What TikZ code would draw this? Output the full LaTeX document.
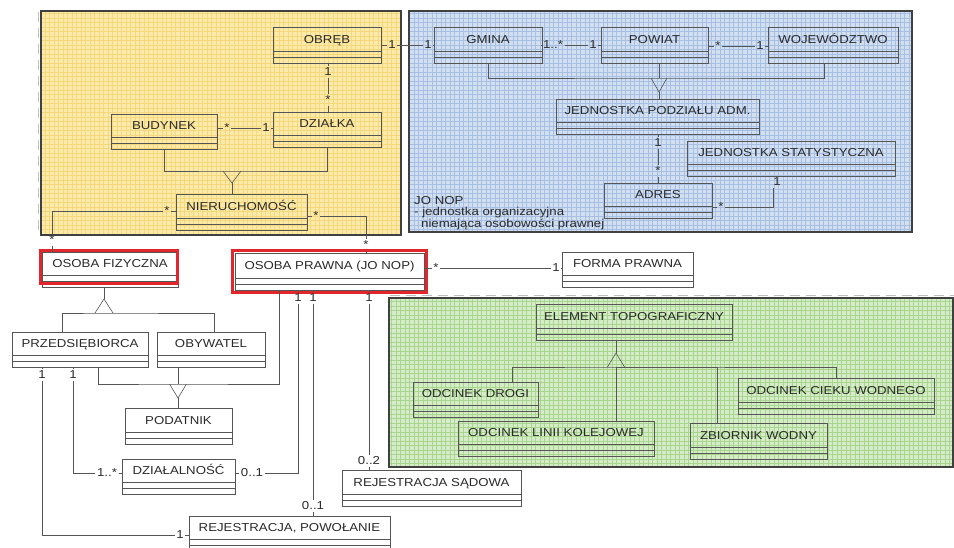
\documentclass[tikz,border=0pt]{standalone}
\usepackage{fontspec}
\setmainfont{Liberation Sans}[FakeStretch=1.15]
\usetikzlibrary{fit}

\definecolor{txt}{HTML}{2A2A2A}
\definecolor{edge}{HTML}{555555}
\definecolor{yelbg}{HTML}{FCEAAA}
\definecolor{yelln}{HTML}{F6D87C}
\definecolor{blubg}{HTML}{D2DFF1}
\definecolor{bluln}{HTML}{A6BFE2}
\definecolor{grnbg}{HTML}{D6ECC8}
\definecolor{grnln}{HTML}{A8D68E}
\definecolor{hilite}{HTML}{E3262B}

\tikzset{
  clsbox/.style={draw=edge, line width=0.7pt, inner sep=0pt},
  clsline/.style={draw=edge, line width=0.6pt},
  clstitle/.style={text=txt, inner sep=0pt, anchor=base, font=\fontsize{11.5}{13}\selectfont},
  mult/.style={text=txt, inner sep=1.5pt, font=\fontsize{11.5}{13}\selectfont},
  conn/.style={draw=edge, line width=0.6pt},
  note/.style={text=txt, inner sep=0pt, align=left, font=\fontsize{11.5}{11.5}\selectfont},
  hilitebox/.style={draw=hilite, line width=3pt},
  panelframe/.style={draw=black!75, line width=1.3pt},
  guide/.style={draw=black!25, line width=0.8pt, dash pattern=on 10pt off 6pt},
}

% UML class: name, x1, y1, x2, y2, title
\newcommand\umlclass[6]{%
  \node[clsbox, fit={(#2,#3) (#4,#5)}] (#1) {};
  \node[clstitle] (#1-t) at ({(#2+#4)/2},{(#3+#5-12)/2+4.2}) {#6};
  \draw[clsline] ([yshift=12pt]#1.south west) -- ([yshift=12pt]#1.south east);
  \draw[clsline] ([yshift=6pt]#1.south west) -- ([yshift=6pt]#1.south east);
}

% coloured grid panel: x1, y1, x2, y2, background, grid colour
\newcommand\gridpanel[6]{%
  \fill[#5] (#1,#2) rectangle (#3,#4);
  \begin{scope}
    \clip (#1,#2) rectangle (#3,#4);
    \draw[#6, line width=0.8pt, step=4.5pt] (#1,#4) grid (#3,#2);
  \end{scope}
  \draw[panelframe] (#1,#2) rectangle (#3,#4);
}

\begin{document}
\begin{tikzpicture}[x=1pt, y=-1pt]
\useasboundingbox (0,0) rectangle (954,547);
\fill[white] (0,0) rectangle (954,547);

% panels
\draw[guide] (38,12) -- (38,232);
\draw[guide] (390,295) -- (954,295);
\gridpanel{41}{11}{401}{235}{yelbg}{yelln}
\gridpanel{409}{11}{912}{232}{blubg}{bluln}
\gridpanel{389}{298}{953}{467}{grnbg}{grnln}

% classes
\umlclass{obreb}{273}{27}{381}{63}{OBRĘB}
\umlclass{dzialka}{273}{112}{381}{147}{DZIAŁKA}
\umlclass{budynek}{111}{114}{217}{149}{BUDYNEK}
\umlclass{nier}{176}{194}{307}{230}{NIERUCHOMOŚĆ}
\umlclass{gmina}{434}{27}{542}{63}{GMINA}
\umlclass{powiat}{601}{27}{708}{63}{POWIAT}
\umlclass{woj}{768}{27}{898}{63}{WOJEWÓDZTWO}
\umlclass{jpa}{556}{99}{759}{134}{JEDNOSTKA PODZIAŁU ADM.}
\umlclass{js}{687}{141}{895}{176}{JEDNOSTKA STATYSTYCZNA}
\umlclass{adres}{604}{183}{712}{218}{ADRES}
\umlclass{of}{42}{252}{178}{287}{OSOBA FIZYCZNA}
\umlclass{op}{235}{253}{424}{290}{OSOBA PRAWNA (JO NOP)}
\umlclass{forma}{562}{252}{693}{287}{FORMA PRAWNA}
\umlclass{prz}{12}{332}{148}{367}{PRZEDSIĘBIORCA}
\umlclass{oby}{157}{332}{265}{367}{OBYWATEL}
\umlclass{pod}{125}{408}{232}{444}{PODATNIK}
\umlclass{dzial}{122}{459}{235}{494}{DZIAŁALNOŚĆ}
\umlclass{rejpow}{189}{516}{390}{551}{REJESTRACJA, POWOŁANIE}
\umlclass{rejsad}{342}{470}{521}{506}{REJESTRACJA SĄDOWA}
\umlclass{et}{536}{304}{732}{340}{ELEMENT TOPOGRAFICZNY}
\umlclass{drogi}{413}{382}{538}{417}{ODCINEK DROGI}
\umlclass{linii}{458}{421}{654}{456}{ODCINEK LINII KOLEJOWEJ}
\umlclass{cieku}{738}{378}{934}{414}{ODCINEK CIEKU WODNEGO}
\umlclass{zbior}{690}{423}{827}{459}{ZBIORNIK WODNY}

% highlighted classes
\draw[hilitebox] ([xshift=-1pt,yshift=1pt]of.north west) rectangle ([xshift=-1pt,yshift=4pt]of.south east);
\draw[hilitebox] ([xshift=-2pt,yshift=2pt]op.north west) rectangle ([xshift=2pt,yshift=-2pt]op.south east);

% note
\node[note, anchor=north west] (jonop) at (414,196)
  {JO NOP\\- jednostka organizacyjna\\\hspace*{7pt}niemająca osobowości prawnej};

% --- associations, land parcels
\node[mult] (m1) at (328,72) {1};
\node[mult] (m2) at (328,100) {*};
\draw[conn] (obreb.south -| m1) -- (m1) -- (m2) -- (dzialka.north -| m2);

\node[mult] (m3) at (227,128) {*};
\node[mult] (m4) at (266,128) {1};
\draw[conn] (budynek.east |- m3) -- (m3) -- (m4) -- (dzialka.west |- m4);

\coordinate (ybus) at (232,171);
\coordinate (ya) at (232,183);
\draw[conn] (budynek.south) |- (ybus) -| (dzialka.south);
\draw[conn] ([xshift=-9pt]ybus) -- (ya) -- ([xshift=9pt]ybus);
\draw[conn] (ya) -- (nier.north -| ya);

\node[mult] (m5) at (167,211) {*};
\node[mult] (m6) at (52,240) {*};
\draw[conn] (nier.west |- m5) -- (m5) -- (m5 -| m6) -- (m6) -- (of.north -| m6);

\node[mult] (m7) at (316,216) {*};
\node[mult] (m8) at (366,245) {*};
\draw[conn] (nier.east |- m7) -- (m7) -- (m7 -| m8) -- (m8) -- (op.north -| m8);

% --- administrative units
\node[mult] (m9) at (392,45) {1};
\node[mult] (m10) at (428,45) {1};
\draw[conn] (obreb.east |- m9) -- (m9) -- (m10) -- (gmina.west |- m10);

\node[mult] (m11) at (553,45) {1..*};
\node[mult] (m12) at (593,45) {1};
\draw[conn] (gmina.east |- m11) -- (m11) -- (m12) -- (powiat.west |- m12);

\node[mult] (m13) at (718,46) {*};
\node[mult] (m14) at (760,46) {1};
\draw[conn] (powiat.east |- m13) -- (m13) -- (m14) -- (woj.west |- m14);

\coordinate (bbus) at (659,78);
\coordinate (ba) at (659,92);
\draw[conn] (gmina.south) |- (bbus) -| ([xshift=-9pt]woj.south);
\draw[conn] (powiat.south -| bbus) -- (bbus);
\draw[conn] ([xshift=-8pt]bbus) -- (ba) -- ([xshift=8pt]bbus);
\draw[conn] (ba) -- (jpa.north -| ba);

\node[mult] (m15) at (658,143) {1};
\node[mult] (m16) at (658,171) {*};
\draw[conn] (jpa.south -| m15) -- (m15) -- (m16) -- (adres.north -| m16);

\node[mult] (m17) at (721,207) {*};
\node[mult] (m18) at (777,182) {1};
\coordinate (jsc) at (773,207);
\draw[conn] (adres.east |- m17) -- (m17) -- (jsc) -- (jsc |- m18.south);

% --- persons
\node[mult] (m19) at (436,268) {*};
\node[mult] (m20) at (556,268) {1};
\draw[conn] (op.east |- m19) -- (m19) -- (m20) -- (forma.west |- m20);

\coordinate (fbus) at (104,313);
\coordinate (fa) at (104,299);
\draw[conn] ([xshift=-18pt]prz.north) |- (fbus) -| ([xshift=3pt]oby.north);
\draw[conn] ([xshift=-9pt]fbus) -- (fa) -- ([xshift=9pt]fbus);
\draw[conn] (fa) -- (of.south -| fa);

\coordinate (pbus) at (178,384);
\coordinate (pa) at (178,398);
\draw[conn] ([xshift=18pt]prz.south) |- (pbus) -| ([xshift=-50.5pt]op.south);
\draw[conn] (oby.south -| pbus) -- (pbus);
\draw[conn] ([xshift=-8.5pt]pbus) -- (pa) -- ([xshift=8.5pt]pbus);
\draw[conn] (pa) -- (pod.north -| pa);

\node[mult] (m21) at (42,375) {1};
\node[mult] (m22) at (180,535) {1};
\draw[conn] (prz.south -| m21) -- (m21) -- (m21 |- m22) -- (m22) -- (rejpow.west |- m22);

\node[mult] (m23) at (73,375) {1};
\node[mult] (m24) at (107,473) {1..*};
\draw[conn] (prz.south -| m23) -- (m23) -- (m23 |- m24) -- (m24) -- (dzial.west |- m24);

\node[mult] (m25) at (252,473) {0..1};
\node[mult] (m26) at (298,298) {1};
\draw[conn] (dzial.east |- m25) -- (m25) -- (m26 |- m25) -- (m26) -- (op.south -| m26);

\node[mult] (m27) at (313,298) {1};
\node[mult] (m28) at (313,506) {0..1};
\draw[conn] (op.south -| m27) -- (m27) -- (m28) -- (rejpow.north -| m28);

\node[mult] (m29) at (369,298) {1};
\node[mult] (m30) at (369,461) {0..2};
\draw[conn] (op.south -| m29) -- (m29) -- (m30) -- (rejsad.north -| m30);

% --- topographic elements
\coordinate (gbus) at (616,367);
\coordinate (ga) at (616,353);
\draw[conn] ([xshift=36.5pt]drogi.north) |- (gbus) -| (cieku.north);
\draw[conn] (gbus) -- (linii.north -| gbus);
\draw[conn] ([xshift=-41.5pt]zbior.north) |- (gbus);
\draw[conn] ([xshift=-8.5pt]gbus) -- (ga) -- ([xshift=8.5pt]gbus);
\draw[conn] (ga) -- (et.south -| ga);
\end{tikzpicture}
\end{document}
